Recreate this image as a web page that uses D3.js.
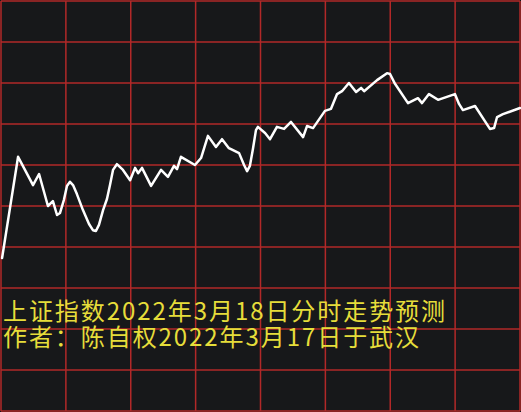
<!DOCTYPE html>
<meta charset="utf-8">
<head>
  <title>上证指数分时走势预测</title>
  <style>
    html, body { margin: 0; padding: 0; background: #17181a; }
    svg { display: block; }
  </style>
</head>
<body>
<div id="chart"></div>
<script src="https://d3js.org/d3.v7.min.js"></script>
<script>

// minutes since open (0..240) and predicted index level
var minutes = [0.5, 7.9, 14.8, 17.6, 21.7, 24.0, 25.9, 27.3, 29.1, 30.5, 31.9, 33.3, 35.1, 37.9,
  40.7, 42.5, 43.9, 45.3, 47.2, 49.0, 50.4, 51.8, 53.6, 56.4, 59.7, 62.0, 63.4, 65.2, 69.4, 74.0,
  77.2, 80.0, 81.4, 83.2, 89.7, 92.5, 95.7, 99.4, 102.2, 105.4, 110.1, 112.4, 113.8, 115.1, 116.5,
  117.9, 118.8, 122.1, 124.4, 127.6, 130.9, 134.1, 139.7, 141.5, 144.3, 149.8, 152.6, 155.4, 157.7,
  160.9, 164.2, 166.5, 167.9, 173.9, 178.5, 179.9, 182.2, 188.2, 192.8, 194.7, 197.9, 202.1, 209.9,
  211.8, 213.6, 219.2, 226.1, 228.0, 229.4, 232.1, 240.0];
var levels = [3187.3, 3212.0, 3205.1, 3207.8, 3200.0, 3201.2, 3197.8, 3198.3, 3201.5, 3204.9, 3205.9,
  3205.1, 3202.9, 3199.0, 3195.6, 3194.1, 3193.9, 3195.4, 3199.0, 3201.7, 3205.1, 3208.8, 3210.2,
  3208.8, 3206.3, 3209.3, 3208.0, 3209.3, 3204.9, 3208.8, 3207.1, 3209.8, 3209.0, 3212.0, 3210.0,
  3211.7, 3217.1, 3214.4, 3216.3, 3214.1, 3212.9, 3210.0, 3208.5, 3209.8, 3213.9, 3218.5, 3219.3,
  3217.8, 3216.3, 3219.3, 3218.8, 3220.5, 3216.8, 3219.5, 3219.0, 3223.2, 3223.7, 3227.3, 3228.0,
  3230.0, 3227.8, 3228.8, 3228.0, 3230.7, 3232.4, 3232.2, 3229.8, 3225.1, 3226.3, 3225.1, 3227.3,
  3225.9, 3227.3, 3224.9, 3223.4, 3224.4, 3218.8, 3219.0, 3221.7, 3222.4, 3223.9];

// grid positions
var xTicks = [0, 30, 60, 90, 120, 150, 180, 210, 240];
var yTicks = [3150, 3160, 3170, 3180, 3190, 3200, 3210, 3220, 3230, 3240, 3250];

var titleLines = ["上证指数2022年3月18日分时走势预测", "作者：陈自权2022年3月17日于武汉"];

var width = 521, height = 412;

var svg = d3.select("#chart").append("svg")
    .attr("width", width)
    .attr("height", height);

svg.append("rect")
    .attr("width", width)
    .attr("height", height)
    .attr("fill", "#17181a");

var x = d3.scaleLinear().domain([0, 240]).range([1, 520]);
var y = d3.scaleLinear().domain([3150, 3250]).range([411, 1]);

// red grid
svg.append("g").selectAll("line")
    .data(xTicks)
    .enter().append("line")
      .attr("x1", function(d) { return x(d); })
      .attr("x2", function(d) { return x(d); })
      .attr("y1", y(3250))
      .attr("y2", y(3150))
      .style("stroke", "#b22828")
      .style("stroke-width", "1.5px");

svg.append("g").selectAll("line")
    .data(yTicks)
    .enter().append("line")
      .attr("y1", function(d) { return y(d); })
      .attr("y2", function(d) { return y(d); })
      .attr("x1", x(0))
      .attr("x2", x(240))
      .style("stroke", "#b22828")
      .style("stroke-width", "1.5px");

// the forecast line
var points = minutes.map(function(m, i) { return [m, levels[i]]; });

svg.append("path")
    .datum(points)
    .attr("fill", "none")
    .attr("stroke", "#ffffff")
    .attr("stroke-width", 2.5)
    .attr("stroke-linejoin", "round")
    .attr("stroke-linecap", "round")
    .attr("d", d3.line()
        .x(function(d) { return x(d[0]); })
        .y(function(d) { return y(d[1]); }));

// caption, two lines in one text block
svg.append("text")
    .style("font-family", "'Noto Sans CJK SC', sans-serif")
    .style("font-size", "24px")
    .style("fill", "#e6dd3a")
  .selectAll("tspan")
    .data(titleLines)
    .enter().append("tspan")
      .attr("x", 3)
      .attr("y", function(d, i) { return 320 + i * 26; })
      .attr("textLength", function(d, i) { return i == 0 ? 442 : 416; })
      .attr("lengthAdjust", "spacing")
      .text(function(d) { return d; });

</script>
</body>
</html>
